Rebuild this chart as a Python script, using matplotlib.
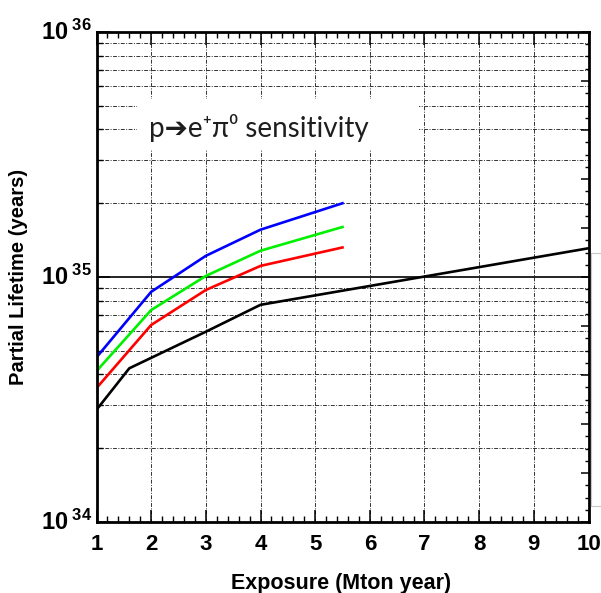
import numpy as np
import matplotlib
matplotlib.use('Agg')
import matplotlib.pyplot as plt
from matplotlib.patches import Rectangle
from matplotlib.ticker import FixedLocator, NullFormatter, MultipleLocator

plt.rcParams['font.family'] = ['Liberation Sans', 'DejaVu Sans']
plt.rcParams['mathtext.fontset'] = 'custom'
plt.rcParams['mathtext.bf'] = 'Liberation Sans:bold'
plt.rcParams['mathtext.rm'] = 'Liberation Sans'

# data
exposure = [1, 2, 3, 4, 5.5]
blue_life = [4.70e34, 8.7e34, 1.22e35, 1.56e35, 2.0e35]
green_life = [4.13e34, 7.33e34, 1.01e35, 1.28e35, 1.60e35]
red_life = [3.52e34, 6.37e34, 8.85e34, 1.11e35, 1.32e35]
black_exposure = [1, 1.6, 3, 4, 10]
black_life = [2.87e34, 4.24e34, 5.98e34, 7.7e34, 1.31e35]
ref_level = 1e35

x_ticks = list(range(1, 11))
y_decades = [1e34, 1e35, 1e36]
y_labels = ['34', '35', '36']

fig = plt.figure(figsize=(6.01, 5.93), dpi=100)
ax = fig.add_axes([96.5 / 601, 1 - 522 / 593, 492 / 601, 490 / 593])

ax.set_yscale('log')
ax.set_xlim(1, 10)
ax.set_ylim(1e34, 1e36)

# grid (dash-dot, ROOT style)
grid_kw = dict(color='#333333', lw=0.7, linestyle=(0, (4, 1.5, 1, 1.5)), zorder=1)
for xv in x_ticks[1:-1]:
    ax.axvline(xv, **grid_kw)
for dec in [1e34, 1e35]:
    for m in range(2, 10):
        ax.axhline(m * dec, **grid_kw)

# white box behind the title text
ax.add_patch(Rectangle((0.082, 0.759), 0.574, 0.104, transform=ax.transAxes,
                       facecolor='white', edgecolor='none', zorder=2))
ax.text(0.107, 0.805, 'p\u2794e\u207a\u03c0\u2070 sensitivity', transform=ax.transAxes,
        fontsize=20, family=['Lato', 'DejaVu Sans'], color='#1e1e1e',
        va='center', ha='left', zorder=3)

ax.axhline(ref_level, color='black', lw=1.2, zorder=3)

ax.plot(exposure, blue_life, color='#0000ff', lw=1.9, zorder=4)
ax.plot(exposure, green_life, color='#00f000', lw=1.9, zorder=4)
ax.plot(exposure, red_life, color='#ff0000', lw=1.9, zorder=4)
ax.plot(black_exposure, black_life, color='black', lw=1.9, zorder=4)

for s in ax.spines.values():
    s.set_linewidth(2.0)
    s.set_zorder(5)

# x ticks
ax.set_xticks(x_ticks)
ax.xaxis.set_minor_locator(MultipleLocator(0.2))
ax.tick_params(axis='x', which='major', direction='in', length=9, width=1.1,
               top=True, bottom=True, labelsize=16, pad=9)
ax.tick_params(axis='x', which='minor', direction='in', length=4.5, width=1.0,
               top=True, bottom=True)
for lab in ax.get_xticklabels():
    lab.set_fontweight('bold')

# y ticks: left side log, labels drawn by hand
ax.yaxis.set_major_locator(FixedLocator(y_decades))
ax.yaxis.set_minor_locator(FixedLocator([m * d for d in [1e34, 1e35] for m in range(2, 10)]))
ax.yaxis.set_major_formatter(NullFormatter())
ax.yaxis.set_minor_formatter(NullFormatter())
ax.tick_params(axis='y', which='major', direction='in', length=9, width=1.1,
               left=True, right=False)
ax.tick_params(axis='y', which='minor', direction='in', length=4, width=1.0,
               left=True, right=False)

for yv, lab in zip(y_decades, y_labels):
    ax.text(-0.009, yv, r'$\mathbf{10^{\;%s}}$' % lab, transform=ax.get_yaxis_transform(),
            ha='right', va='center', fontsize=17)

# right side ticks (linear spacing as in the original)
ax2 = ax.twinx()
ax2.set_ylim(0, 1)
ax2.yaxis.set_major_locator(MultipleLocator(0.1))
ax2.yaxis.set_minor_locator(MultipleLocator(0.025))
ax2.yaxis.set_major_formatter(NullFormatter())
ax2.tick_params(axis='y', which='major', direction='in', length=6, width=1.1)
ax2.tick_params(axis='y', which='minor', direction='in', length=3, width=1.0)
for s in ax2.spines.values():
    s.set_visible(False)

ax.set_xlabel('Exposure (Mton year)', fontsize=15.5, fontweight='bold')
ax.xaxis.set_label_coords(0.497, -0.104)
ax.set_ylabel('Partial Lifetime (years)', fontsize=14.5, fontweight='bold')
ax.yaxis.set_label_coords(-0.139, 0.5)

# faint frame at the right edge
fig.add_artist(Rectangle((590.7 / 601, 1 - 506 / 593), 0.1, 253 / 593,
                         transform=fig.transFigure, fill=False,
                         edgecolor='#c8c8c8', lw=0.8))

fig.savefig('out.png', dpi=100)
